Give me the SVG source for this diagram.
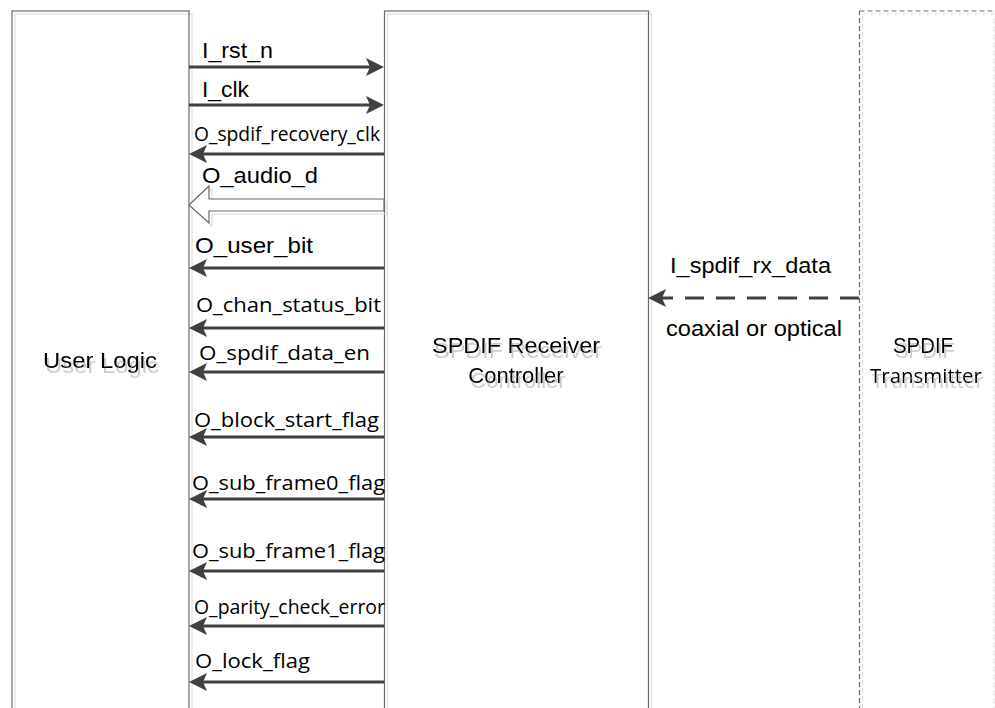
<svg xmlns="http://www.w3.org/2000/svg" width="995" height="708" viewBox="0 0 995 708">
<style>
.box{fill:none;stroke:#6a6a6a;stroke-width:1.2}
.shadow{fill:none;stroke:#dedede;stroke-width:1.2}
.dash{stroke-dasharray:5,3}
.ar{font-family:"Liberation Sans",Arial,sans-serif;font-size:22px;fill:#000}
.ca{font-family:"Open Sans","Noto Sans",sans-serif;font-size:20.5px;fill:#000}
.sh{filter:url(#ts)}
.sig{stroke:#404040;stroke-width:3;fill:none}
</style>
<defs>
<marker id="ah" markerUnits="userSpaceOnUse" markerWidth="20" markerHeight="20" refX="14" refY="9" orient="auto">
<path d="M0,0 L18,9 L0,18 L4,9 Z" fill="#404040"/>
</marker>
<filter id="ts" x="-10%" y="-30%" width="130%" height="180%">
<feOffset in="SourceAlpha" dx="2" dy="5" result="o"/>
<feFlood flood-color="#cccccc"/>
<feComposite in2="o" operator="in" result="s"/>
<feMerge><feMergeNode in="s"/><feMergeNode in="SourceGraphic"/></feMerge>
</filter>
</defs>
<rect width="995" height="708" fill="#fff"/>

<g id="user-logic">
<rect class="shadow" x="15" y="14" width="177" height="720"/>
<rect class="box" x="12" y="11" width="177" height="720"/>
<text class="ar sh" x="43" y="368" textLength="114" lengthAdjust="spacingAndGlyphs">User Logic</text>
</g>

<g id="spdif-receiver-controller">
<rect class="shadow" x="387.5" y="14" width="264" height="720"/>
<rect class="box" x="384.5" y="11" width="264" height="720"/>
<text class="ar sh" text-anchor="middle" x="516" y="353" textLength="168" lengthAdjust="spacingAndGlyphs">SPDIF Receiver</text>
<text class="ar sh" text-anchor="middle" x="516" y="383">Controller</text>
</g>

<g id="spdif-transmitter">
<rect class="shadow dash" x="862.5" y="14" width="131.5" height="720"/>
<rect class="box dash" x="859.5" y="11" width="150" height="720"/>
<text class="ar sh" text-anchor="middle" x="923" y="353" textLength="60" lengthAdjust="spacingAndGlyphs">SPDIF</text>
<text class="ca sh" x="870" y="383" font-size="19" textLength="112" lengthAdjust="spacingAndGlyphs">Transmitter</text>
</g>

<g id="connectors">
<line class="sig" x1="189" y1="67" x2="380" y2="67" marker-end="url(#ah)"/>
<line class="sig" x1="189" y1="105" x2="380" y2="105" marker-end="url(#ah)"/>
<line class="sig" x1="384" y1="154" x2="193" y2="154" marker-end="url(#ah)"/>
<path d="M192,208 L212,189 L212,202 L387,202 L387,214 L212,214 L212,226 Z" fill="none" stroke="#dedede" stroke-width="1.2"/>
<path d="M189,205 L209,186 L209,199 L384,199 L384,211 L209,211 L209,223 Z" fill="#fff" stroke="#6a6a6a" stroke-width="1.2"/>
<line class="sig" x1="384" y1="268" x2="193" y2="268" marker-end="url(#ah)"/>
<line class="sig" x1="384" y1="328" x2="193" y2="328" marker-end="url(#ah)"/>
<line class="sig" x1="384" y1="372" x2="193" y2="372" marker-end="url(#ah)"/>
<line class="sig" x1="384" y1="437" x2="193" y2="437" marker-end="url(#ah)"/>
<line class="sig" x1="384" y1="499" x2="193" y2="499" marker-end="url(#ah)"/>
<line class="sig" x1="384" y1="571" x2="193" y2="571" marker-end="url(#ah)"/>
<line class="sig" x1="384" y1="626" x2="193" y2="626" marker-end="url(#ah)"/>
<line class="sig" x1="384" y1="682" x2="193" y2="682" marker-end="url(#ah)"/>
<line class="sig" x1="859" y1="298" x2="652" y2="298" stroke-dasharray="19,12" marker-end="url(#ah)"/>

<text class="ar" x="202" y="58" textLength="71" lengthAdjust="spacingAndGlyphs">I_rst_n</text>
<text class="ar" x="202" y="97" textLength="47" lengthAdjust="spacingAndGlyphs">I_clk</text>
<text class="ca" x="194" y="141" font-size="17" textLength="186" lengthAdjust="spacingAndGlyphs">O_spdif_recovery_clk</text>
<text class="ar" x="202" y="183" textLength="116" lengthAdjust="spacingAndGlyphs">O_audio_d</text>
<text class="ar" x="195" y="253" textLength="118" lengthAdjust="spacingAndGlyphs">O_user_bit</text>
<text class="ca" x="196" y="312" textLength="185" lengthAdjust="spacingAndGlyphs">O_chan_status_bit</text>
<text class="ca" x="199" y="360" textLength="171" lengthAdjust="spacingAndGlyphs">O_spdif_data_en</text>
<text class="ca" x="194" y="427" textLength="185" lengthAdjust="spacingAndGlyphs">O_block_start_flag</text>
<text class="ca" x="192" y="490" textLength="193" lengthAdjust="spacingAndGlyphs">O_sub_frame0_flag</text>
<text class="ca" x="192" y="558" textLength="193" lengthAdjust="spacingAndGlyphs">O_sub_frame1_flag</text>
<text class="ca" x="194" y="614" font-size="16.5" textLength="191" lengthAdjust="spacingAndGlyphs">O_parity_check_error</text>
<text class="ca" x="195" y="668" textLength="115" lengthAdjust="spacingAndGlyphs">O_lock_flag</text>
<text class="ar" x="670" y="273" textLength="161" lengthAdjust="spacingAndGlyphs">I_spdif_rx_data</text>
<text class="ar" x="666" y="336" textLength="176" lengthAdjust="spacingAndGlyphs">coaxial or optical</text>
</g>
</svg>
